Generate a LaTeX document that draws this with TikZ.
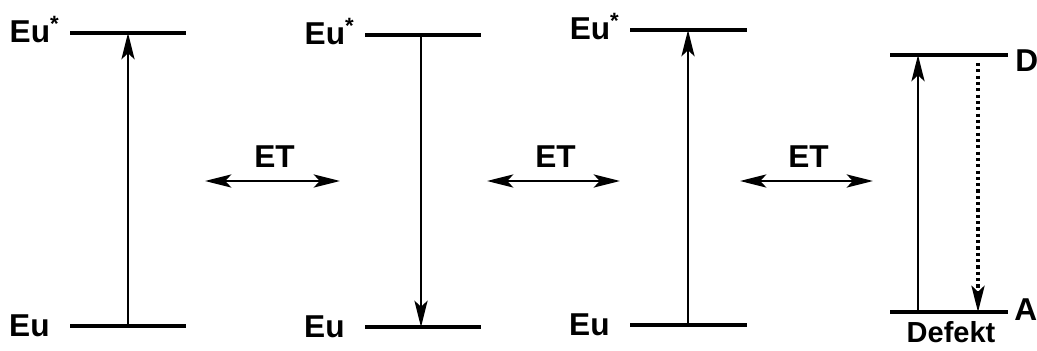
\documentclass[tikz,border=0pt]{standalone}
\usepackage{fontspec}
\setmainfont{Liberation Sans}
\usetikzlibrary{arrows.meta,calc}
\tikzset{
	lvl/.style={line width=2.6pt},
	uptip/.style={line width=1.4pt,-{Stealth[length=15pt,width=7.5pt,inset=3.5pt]}},
	ettip/.style={line width=1.4pt,{Stealth[length=15pt,width=7.5pt,inset=3.5pt]}-{Stealth[length=15pt,width=7.5pt,inset=3.5pt]}},
	lab/.style={font=\fontsize{18}{20}\selectfont\bfseries,inner sep=0pt},
}
\newcommand{\eulevels}[6]{% name, x left, x right, y top, y bottom, x arrow
	\coordinate (#1tl) at (#2,#4);
	\coordinate (#1tr) at (#3,#4);
	\coordinate (#1bl) at (#2,#5);
	\coordinate (#1br) at (#3,#5);
	\coordinate (#1ta) at (#6,#4);
	\coordinate (#1ba) at (#6,#5);
	\draw[lvl] (#1tl) -- (#1tr);
	\draw[lvl] (#1bl) -- (#1br);
}
\newcommand{\eulabels}[1]{
	\node[lab,anchor=base east] (#1star) at ($(#1tl)+(-10,10)$) {Eu\textsuperscript{*}};
	\node[lab,anchor=base east] (#1eu) at ($(#1bl)+(-20,10)$) {Eu};
}
\begin{document}
\begin{tikzpicture}[x=0.02cm,y=-0.02cm]
	\useasboundingbox (0,0) rectangle (1037,351);
	% three Eu centres
	\eulevels{p1}{70}{186}{33}{326}{128}
	\eulabels{p1}
	\draw[uptip] (p1ba) -- (p1ta);
	\eulevels{p2}{365}{481}{35}{327}{421}
	\eulabels{p2}
	\draw[uptip] (p2ta) -- (p2ba);
	\eulevels{p3}{630}{747}{30}{325}{688}
	\eulabels{p3}
	\draw[uptip] (p3ba) -- (p3ta);
	% defect
	\eulevels{p4}{890}{1008}{55}{312}{918}
	\draw[uptip] (p4ba) -- (p4ta);
	\coordinate (p4dt) at (978,63);
	\coordinate (p4db) at (978,312);
	\draw[uptip,line width=1.8pt,dash pattern=on 1.8pt off 1.8pt] (p4dt) -- (p4db);
	\node[lab,anchor=base west] (dlab) at ($(p4tr)+(7,17)$) {D};
	\node[lab,anchor=base west] (alab) at ($(p4br)+(6,8)$) {A};
	\node[lab,font=\fontsize{16.5}{18}\selectfont\bfseries,anchor=base] (defekt) at (951,342) {Defekt};
	% energy transfer
	\foreach \a/\b [count=\i] in {205/340,487/620,740/873} {
		\coordinate (et\i l) at (\a,181);
		\coordinate (et\i r) at (\b,181);
		\draw[ettip] (et\i l) -- (et\i r);
		\node[lab,anchor=base] (et\i) at ($(et\i l)!0.5!(et\i r)+(2,-13)$) {ET};
	}
\end{tikzpicture}
\end{document}
